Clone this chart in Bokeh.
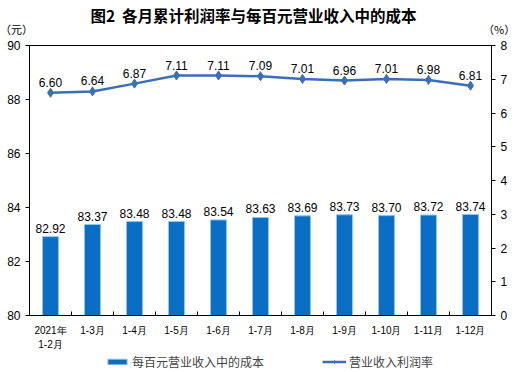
from bokeh.plotting import figure
from bokeh.models import (Range1d, LinearAxis, FixedTicker, LabelSet, Div,
                          ColumnDataSource, Legend, LegendItem)
from bokeh.layouts import column
from bokeh.embed import file_html
from bokeh.resources import INLINE
from bokeh.core.properties import value

title_text = "图2  各月累计利润率与每百元营业收入中的成本"
left_unit = "（元）"
right_unit = "（%）"
categories = ["2021年\n1-2月", "1-3月", "1-4月", "1-5月", "1-6月", "1-7月",
              "1-8月", "1-9月", "1-10月", "1-11月", "1-12月"]
cost = [82.92, 83.37, 83.48, 83.48, 83.54, 83.63, 83.69, 83.73, 83.70, 83.72, 83.74]
margin = [6.60, 6.64, 6.87, 7.11, 7.11, 7.09, 7.01, 6.96, 7.01, 6.98, 6.81]
left_ticks = [80, 82, 84, 86, 88, 90]
right_ticks = [0, 1, 2, 3, 4, 5, 6, 7, 8]
legend_labels = ["每百元营业收入中的成本", "营业收入利润率"]

CJK = "Noto Sans CJK SC"
NUM = "Liberation Sans"
BAR = "#0A6EC4"
BAR_EDGE = "#8EC3EE"
LINE = "#3A6FB5"

xs = list(range(len(categories)))
src = ColumnDataSource(dict(
    x=xs, cost=cost, margin=margin,
    cost_lbl=["%.2f" % v for v in cost],
    margin_lbl=["%.2f" % v for v in margin],
))

p = figure(width=510, height=312, output_backend="svg", toolbar_location=None,
           x_range=Range1d(-0.5, len(categories) - 0.5),
           y_range=Range1d(80, 90),
           min_border_left=29, min_border_right=19, min_border_top=5,
           min_border_bottom=37, x_axis_type=None, y_axis_type=None)
p.extra_y_ranges = {"pct": Range1d(0, 8)}
p.grid.visible = False
p.outline_line_color = "black"
p.outline_line_width = 1
p.background_fill_color = "white"
p.border_fill_color = "white"

xaxis = LinearAxis(ticker=FixedTicker(ticks=xs,
                                      minor_ticks=[i + 0.5 for i in range(-1, len(categories))]))
xaxis.major_label_overrides = {i: c for i, c in enumerate(categories)}
xaxis.major_tick_line_color = None
xaxis.major_tick_in = 0
xaxis.major_tick_out = 0
xaxis.minor_tick_in = 4
xaxis.minor_tick_out = 0
xaxis.minor_tick_line_color = "black"
xaxis.axis_line_color = "black"
xaxis.major_label_text_font = NUM
xaxis.major_label_text_font_size = "10px"
xaxis.major_label_text_line_height = 1.3
xaxis.major_label_text_color = "black"
xaxis.major_label_standoff = 9
p.add_layout(xaxis, "below")

yl = LinearAxis(ticker=FixedTicker(ticks=left_ticks))
yl.major_tick_in = 0
yl.major_tick_out = 4
yl.minor_tick_line_color = None
yl.major_label_text_font = NUM
yl.major_label_text_font_size = "12px"
yl.major_label_text_color = "black"
yl.major_label_standoff = 5
p.add_layout(yl, "left")

yr = LinearAxis(y_range_name="pct", ticker=FixedTicker(ticks=right_ticks))
yr.major_tick_in = 0
yr.major_tick_out = 4
yr.minor_tick_line_color = None
yr.major_label_text_font = NUM
yr.major_label_text_font_size = "12px"
yr.major_label_text_color = "black"
yr.major_label_standoff = 5
p.add_layout(yr, "right")

p.vbar(x="x", top="cost", bottom=80, width=0.38, source=src,
       fill_color=BAR, line_color=BAR_EDGE, line_width=1)
p.line(x="x", y="margin", source=src, y_range_name="pct",
       line_color=LINE, line_width=2.5)
p.scatter(x="x", y="margin", source=src, y_range_name="pct",
          marker="diamond", size=9, fill_color=LINE, line_color=LINE)

p.add_layout(LabelSet(x="x", y="cost", text="cost_lbl", source=src,
                      text_align="center", text_baseline="bottom", y_offset=4,
                      text_font=value(NUM), text_font_size="12px",
                      text_color="black"))
p.add_layout(LabelSet(x="x", y="margin", text="margin_lbl", source=src,
                      y_range_name="pct",
                      text_align="center", text_baseline="bottom", y_offset=6,
                      text_font=value(NUM), text_font_size="12px",
                      text_color="black"))

# legend strip (its own small figure, so the legend is not clipped);
# its renderers carry the same data but are hidden, only their legend swatches show
lg = figure(width=510, height=18, output_backend="svg", toolbar_location=None,
            x_range=Range1d(-0.5, len(categories) - 0.5), y_range=Range1d(80, 90),
            min_border=0, x_axis_type=None, y_axis_type=None)
lg.extra_y_ranges = {"pct": Range1d(0, 8)}
lg.grid.visible = False
lg.outline_line_color = None
lg_bar = lg.vbar(x="x", top="cost", bottom=80, width=0.38, source=src,
                 fill_color=BAR, line_color=BAR_EDGE, line_width=1, visible=False)
lg_line = lg.line(x="x", y="margin", source=src, y_range_name="pct",
                  line_color=LINE, line_width=2.5, visible=False)
lg_mk = lg.scatter(x="x", y="margin", source=src, y_range_name="pct",
                   marker="diamond", size=9, fill_color=LINE, line_color=LINE,
                   visible=False)
legend = Legend(items=[LegendItem(label=legend_labels[0], renderers=[lg_bar]),
                       LegendItem(label=legend_labels[1], renderers=[lg_line, lg_mk])],
                orientation="horizontal", location=(76, 0),
                spacing=58, glyph_width=24, glyph_height=7, label_height=12,
                label_text_font=CJK, label_text_font_size="12px",
                label_standoff=3, border_line_color=None,
                background_fill_alpha=0, padding=0, margin=0,
                inactive_fill_alpha=0)
lg.add_layout(legend, "center")

html = (
    '<div style="position:relative;width:510px;height:40px;'
    "font-family:'Noto Sans CJK SC';color:black;\">"
    '<div style="position:absolute;left:0;top:6px;width:507px;text-align:center;'
    'font-size:15.5px;font-weight:bold;line-height:19px;white-space:pre;">%s</div>'
    '<div style="position:absolute;left:0px;top:22px;font-size:11px;line-height:14px;">%s</div>'
    '<div style="position:absolute;left:483px;top:22px;font-size:11px;line-height:14px;">%s</div>'
    '</div>' % (title_text, left_unit, right_unit)
)
head = Div(text=html, width=510, height=40, margin=(0, 0, 0, 0))

layout = column(head, p, lg, spacing=0)
open("out.html", "w").write(file_html(layout, INLINE))
